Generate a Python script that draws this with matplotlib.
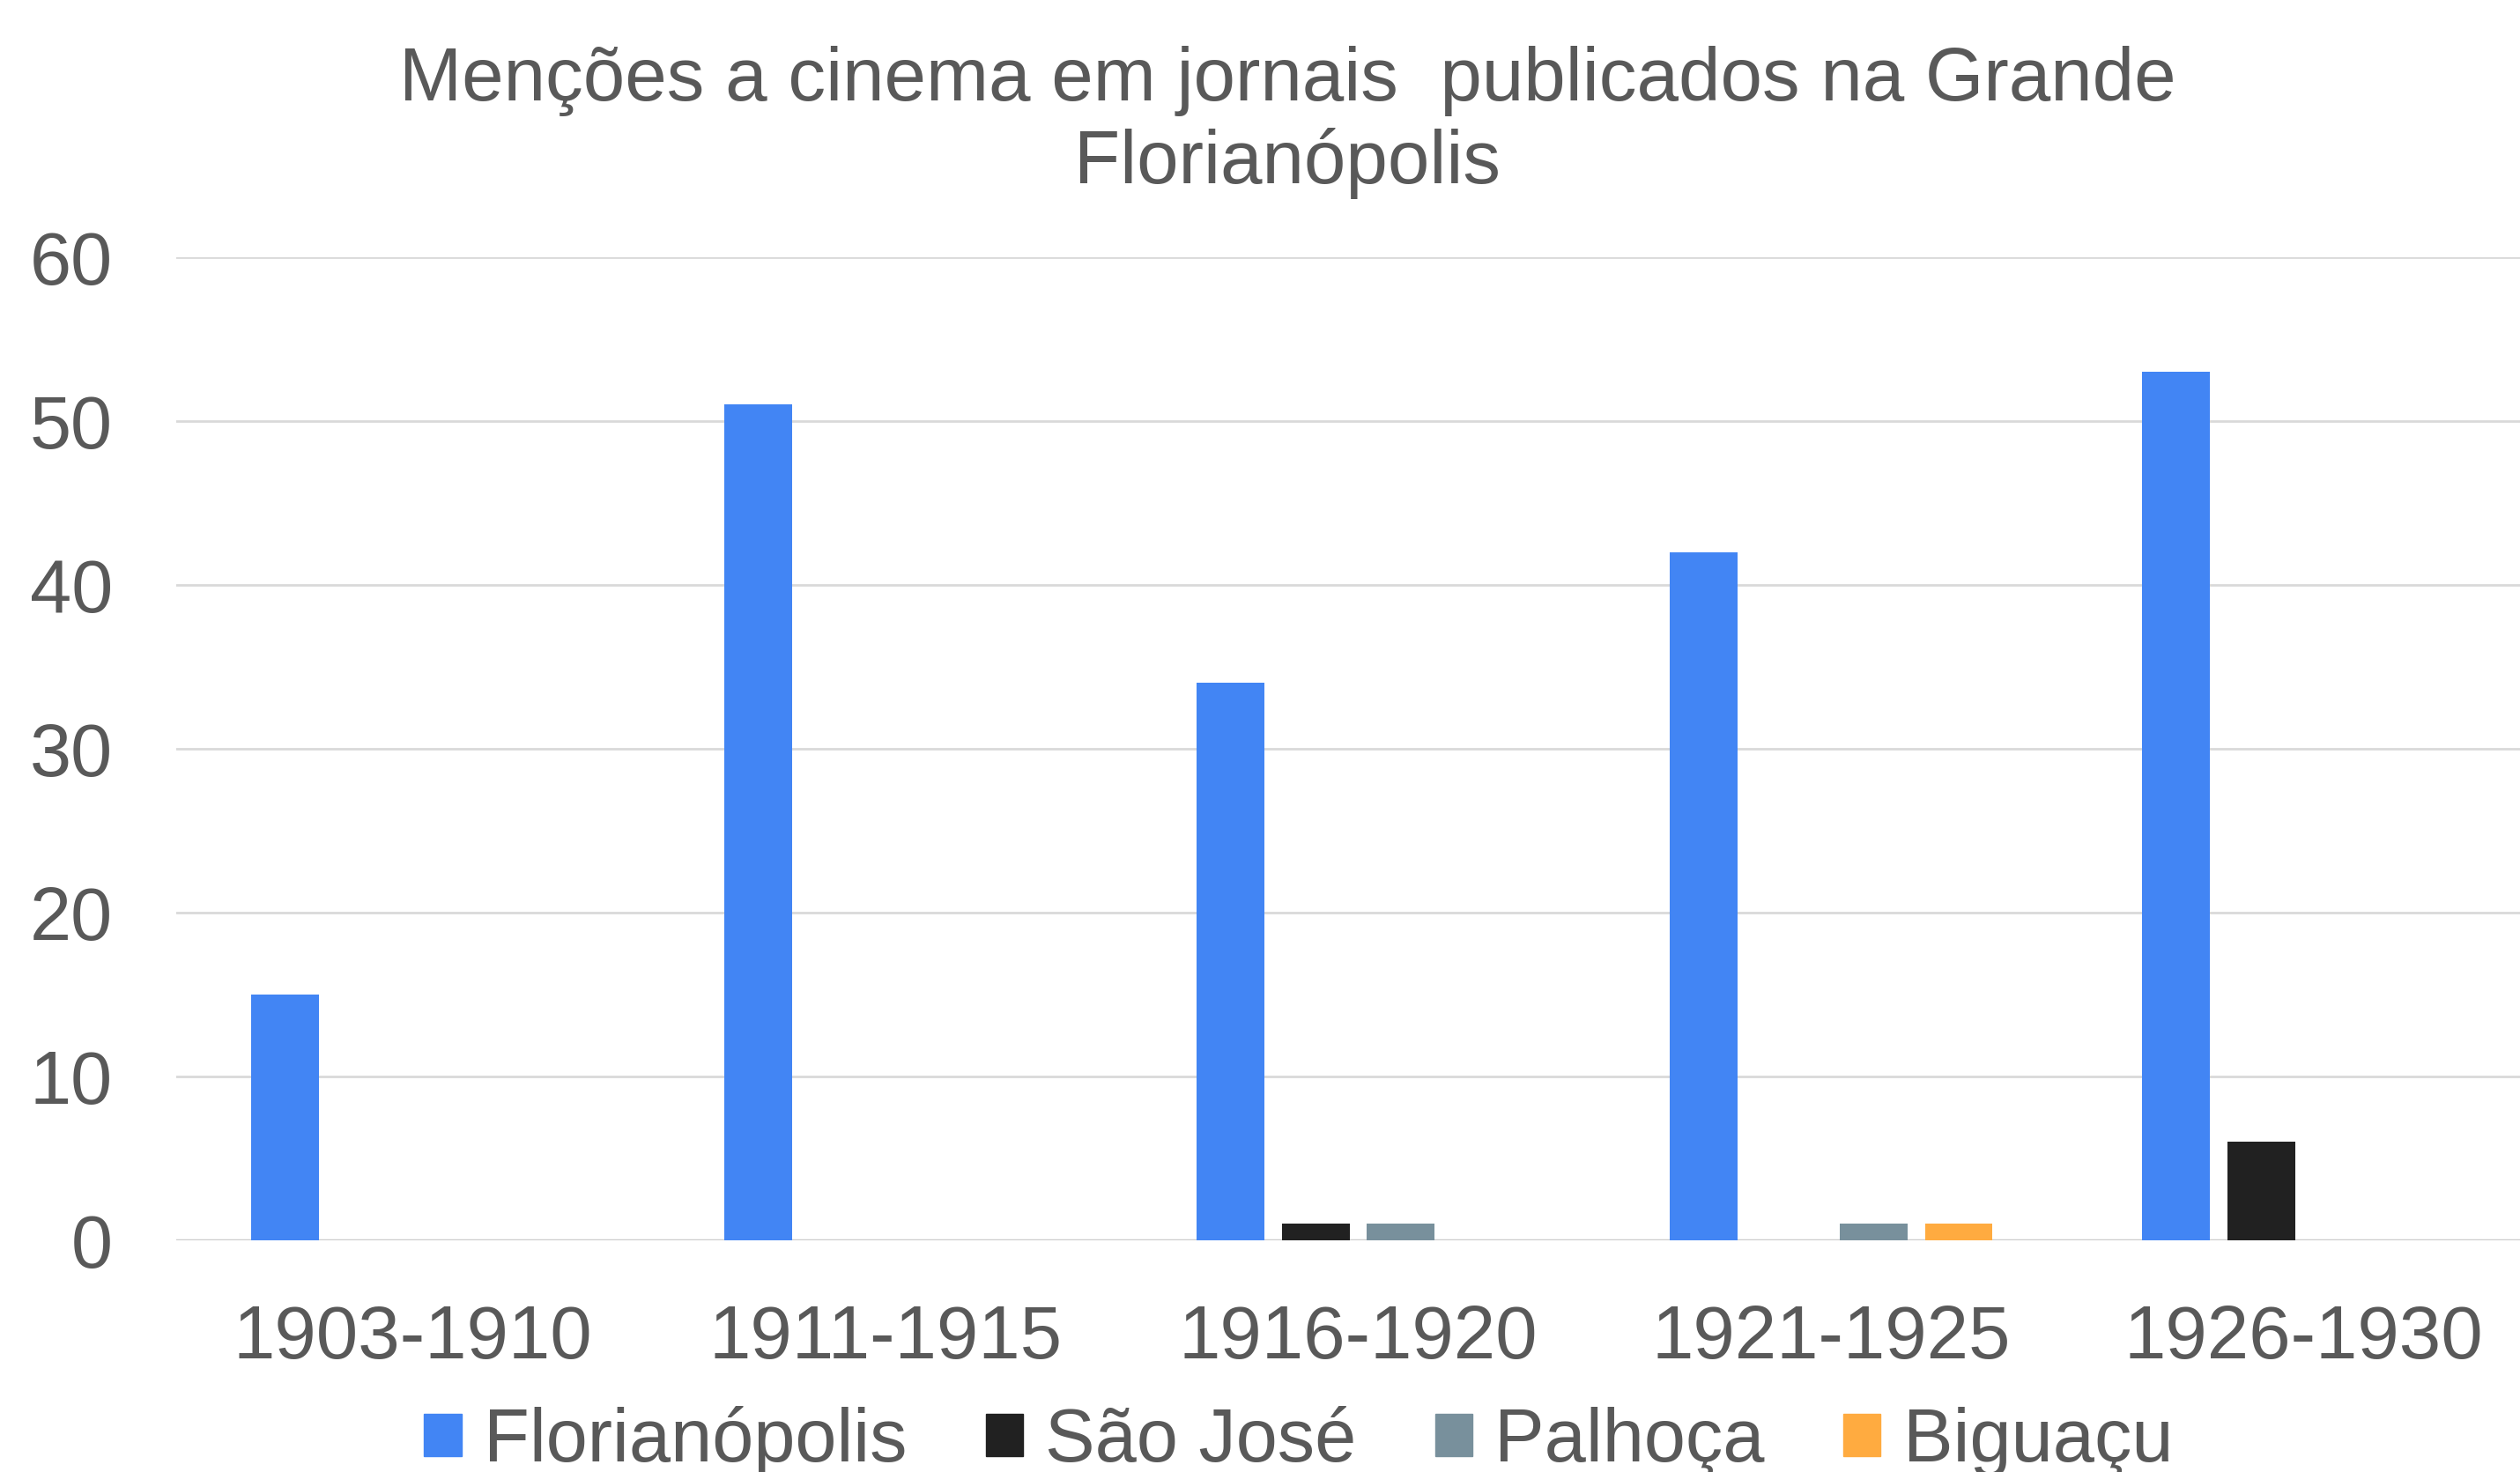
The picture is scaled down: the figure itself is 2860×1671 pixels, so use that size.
import numpy as np
import matplotlib.pyplot as plt
from matplotlib.patches import Rectangle

plt.rcParams['font.family'] = ['Liberation Sans', 'DejaVu Sans']

periods = ['1903-1910', '1911-1915', '1916-1920', '1921-1925', '1926-1930']
series = ['Florianópolis', 'São José', 'Palhoça', 'Biguaçu']
florianopolis = [15, 51, 34, 42, 53]
sao_jose = [0, 0, 1, 0, 6]
palhoca = [0, 0, 1, 1, 0]
biguacu = [0, 0, 0, 1, 0]
colors = ['#4285F4', '#212121', '#78909C', '#FFAB40']
yticks = [0, 10, 20, 30, 40, 50, 60]

text_col = '#595959'

fig = plt.figure(figsize=(28.6, 16.71), dpi=100)
ax = fig.add_axes([0.070, 0.1574, 0.938, 0.668])

x = np.arange(len(periods))
width = 0.143
step = 0.18
for i, (vals, c) in enumerate(zip([florianopolis, sao_jose, palhoca, biguacu], colors)):
    ax.bar(x + (i - 1.5) * step, vals, width, color=c, zorder=3)

ax.set_xlim(-0.5, len(periods) - 0.5)
ax.set_ylim(0, 60)
ax.set_yticks(yticks)
ax.set_xticks(x)
ax.set_xticklabels(periods)
ax.grid(axis='y', color='#d9d9d9', linewidth=2, zorder=0)
ax.axhline(0, color='#cccccc', linewidth=2.5, zorder=2)
for s in ax.spines.values():
    s.set_visible(False)
ax.tick_params(axis='y', length=0, pad=52, labelsize=61, labelcolor=text_col)
ax.tick_params(axis='x', length=0, pad=52, labelsize=61.5, labelcolor=text_col)

fig.text(0.511, 0.917, 'Menções a cinema em jornais  publicados na Grande\nFlorianópolis',
         ha='center', va='center', fontsize=61.5, color=text_col, linespacing=1.21)

handles = [Rectangle((0, 0), 1, 1, color=c) for c in colors]
leg = fig.legend(handles, series, loc='center', bbox_to_anchor=(0.5153, 0.0206),
                 ncol=4, frameon=False, fontsize=61, handlelength=0.5, handleheight=0.5,
                 handletextpad=0.3, columnspacing=1.05, borderaxespad=0)
for t in leg.get_texts():
    t.set_color(text_col)

fig.savefig('out.png', dpi=100)
